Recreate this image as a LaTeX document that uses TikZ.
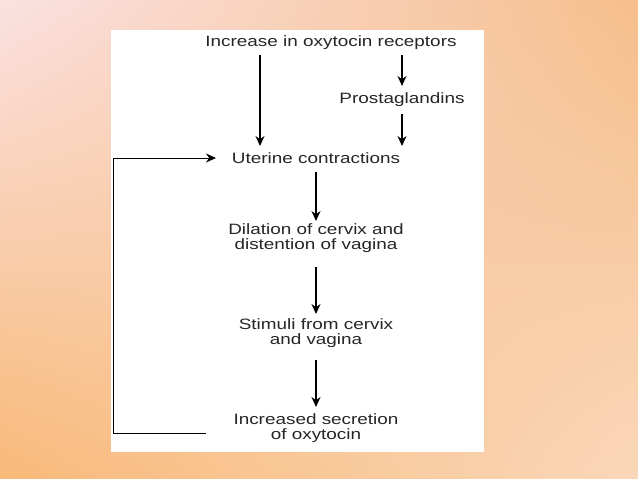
\documentclass[tikz,border=0pt]{standalone}
\usepackage{fontspec}
\setmainfont{Liberation Sans}
\usetikzlibrary{arrows.meta,shadings}
\definecolor{bgA}{RGB}{250,225,225}
\definecolor{bgB}{RGB}{246,190,140}
\definecolor{bgC}{RGB}{248,185,120}
\definecolor{bgD}{RGB}{250,215,185}
\begin{document}
\begin{tikzpicture}[x=1pt,y=-1pt,
  lbl/.style={font=\fontsize{15}{15}\selectfont, align=center, inner sep=0pt, text=black!85, xscale=1.26, transform shape},
  arr/.style={-{Stealth[length=10pt,width=9pt]}, line width=1.1pt}]
\shade[upper left=bgA, upper right=bgB, lower left=bgC, lower right=bgD]
  (0,0) rectangle (638,479);
\useasboundingbox (0,0) rectangle (638,479);
\fill[white] (111,30) rectangle (484,452);
\node[lbl] (a) at (331,43) {Increase in oxytocin receptors};
\node[lbl] (p) at (402,100) {Prostaglandins};
\node[lbl] (u) at (316,158) {Uterine contractions};
\node[lbl] (d) at (316,238) {Dilation of cervix and\\distention of vagina};
\node[lbl] (s) at (316,333) {Stimuli from cervix\\and vagina};
\node[lbl] (i) at (316,428) {Increased secretion\\of oxytocin};
\coordinate (a1) at (260,55); \coordinate (u1) at (260,146);
\coordinate (p0) at (402,55); \coordinate (p1) at (402,86);
\coordinate (p2) at (402,114); \coordinate (p3) at (402,146);
\coordinate (u2) at (316,172); \coordinate (d1) at (316,221);
\coordinate (d2) at (316,267); \coordinate (s1) at (316,314);
\coordinate (s2) at (316,360); \coordinate (i1) at (316,407);
\draw[arr] (a1) -- (u1);
\draw[arr] (p0) -- (p1);
\draw[arr] (p2) -- (p3);
\draw[arr] (u2) -- (d1);
\draw[arr] (d2) -- (s1);
\draw[arr] (s2) -- (i1);
\coordinate (f0) at (206,433); \coordinate (f1) at (113,433);
\coordinate (f2) at (113,158); \coordinate (f3) at (216,158);
\draw[arr,line width=0.9pt] (f0) -- (f1) -- (f2) -- (f3);
\end{tikzpicture}
\end{document}
